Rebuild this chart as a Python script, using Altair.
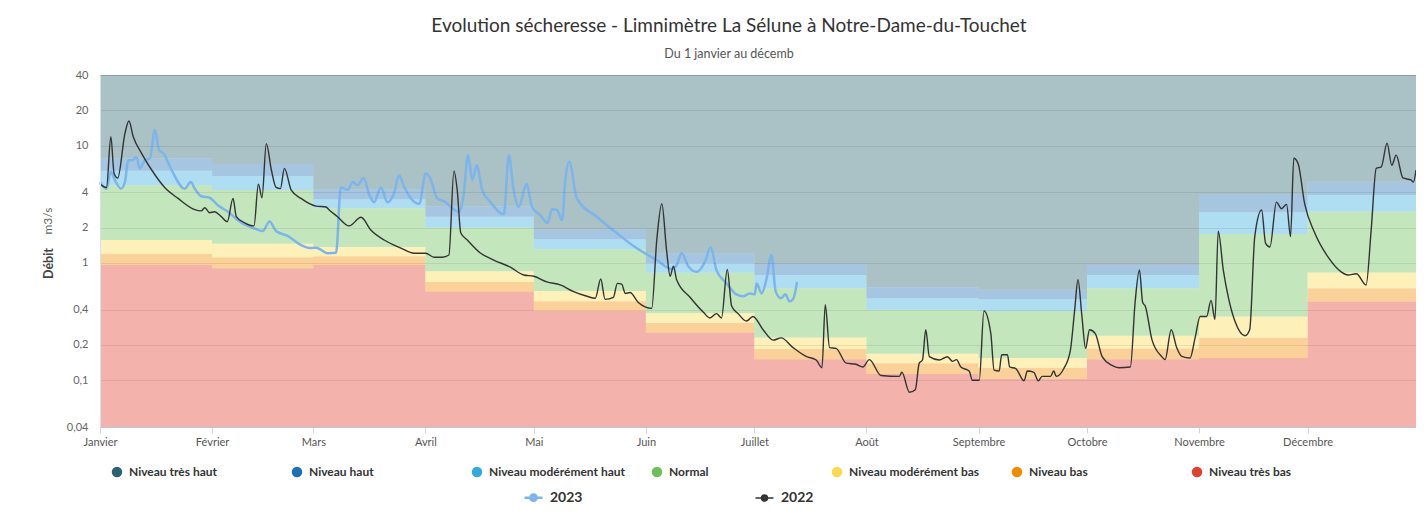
import altair as alt
import pandas as pd

# ---------------- data ----------------
MONTHS = ["Janvier", "Février", "Mars", "Avril", "Mai", "Juin", "Juillet",
          "Août", "Septembre", "Octobre", "Novembre", "Décembre"]
MONTH_START = [0, 31, 59, 90, 120, 151, 181, 212, 243, 273, 304, 334]
YEAR_END = 364

LEVELS = ["Niveau très haut", "Niveau haut", "Niveau modérément haut", "Normal",
          "Niveau modérément bas", "Niveau bas", "Niveau très bas"]
LEVEL_COLORS = ["#2a6470", "#1f6fb5", "#36a9dc", "#6cc05a", "#fcd94f", "#f08c00", "#e0402f"]

Y_MIN, Y_MAX = 0.04, 40
Y_TICKS = [0.04, 0.1, 0.2, 0.4, 1, 2, 4, 10, 20, 40]

# monthly upper thresholds of each level (m3/s)
T_TRES_BAS = [0.96, 0.90, 0.96, 0.57, 0.392, 0.256, 0.151, 0.113, 0.103, 0.151, 0.155, 0.47]
T_BAS = [1.19, 1.12, 1.14, 0.69, 0.473, 0.31, 0.185, 0.14, 0.128, 0.187, 0.23, 0.61]
T_MOD_BAS = [1.57, 1.46, 1.37, 0.85, 0.577, 0.372, 0.232, 0.168, 0.155, 0.24, 0.35, 0.83]
T_NORMAL = [4.6, 4.19, 2.92, 2.0, 1.31, 0.826, 0.61, 0.40, 0.39, 0.61, 1.77, 2.74]
T_MOD_HAUT = [6.1, 5.5, 3.5, 2.48, 1.59, 1.0, 0.79, 0.50, 0.49, 0.79, 2.7, 3.79]
T_HAUT = [7.8, 6.96, 4.24, 3.04, 1.93, 1.21, 0.98, 0.62, 0.59, 0.96, 3.87, 4.93]

# 2022 daily flow (day of year from 1 January, m3/s)
DAY_2022 = [0, 1.8, 3.0, 3.9, 4.9, 6.9, 8.0, 9.2, 11.5, 14.3, 17.9, 21.6, 26.2, 28.0, 29.0,
            30.3, 31.7, 33.4, 35.2, 36.8, 37.7, 40.0, 42.6, 43.8, 44.8, 46.0, 47.4, 48.7,
            49.9, 51.0, 52.9, 55.6, 59.8, 62.5, 63.4, 65.7, 68.9, 72.2, 74.9, 78.6, 83.2,
            86.9, 90.1, 92.4, 94.7, 96.5, 97.9, 98.8, 99.8, 101.6, 105.3, 108.9, 113.5,
            117.2, 120.0, 123.6, 127.3, 131.0, 134.7, 137.0, 138.5, 139.7, 142.0, 143.1,
            144.3, 145.3, 146.6, 148.9, 152.6, 154.0, 155.4, 156.7, 157.7, 158.6, 159.5,
            163.2, 166.9, 168.7, 170.5, 171.9, 173.5, 174.7, 176.5, 178.8, 180.6, 183.4,
            186.2, 188.4, 191.7, 195.3, 198.1, 199.7, 200.6, 201.8, 203.6, 206.4, 209.1,
            211.0, 212.8, 216.0, 221.1, 221.8, 223.9, 225.5, 226.6, 227.5, 228.4, 229.4,
            232.1, 234.4, 235.8, 236.9, 238.1, 240.4, 241.3, 243.2, 244.5, 246.4, 247.3,
            248.7, 249.4, 251.0, 251.6, 253.3, 255.6, 256.5, 258.3, 259.5, 260.6, 262.9,
            263.8, 264.5, 266.6, 268.4, 269.6, 270.5, 271.6, 272.6, 273.7, 275.3, 277.2,
            279.9, 281.8, 285.0, 286.3, 287.5, 288.4, 289.1, 291.0, 293.7, 294.6, 296.3,
            297.8, 299.2, 301.5, 302.9, 304.3, 306.1, 307.3, 308.4, 309.3, 310.7, 312.1,
            313.9, 316.7, 318.0, 319.4, 321.3, 322.4, 323.6, 325.4, 326.8, 328.2, 329.3,
            330.2, 331.4, 333.2, 336.0, 339.7, 343.3, 345.2, 347.5, 350.2, 351.6, 353.0,
            354.4, 356.0, 357.3, 358.5, 360.4, 362.6, 363.3, 364.0]
Q_2022 = [4.7, 4.4, 11.9, 5.8, 5.3, 12.7, 16.2, 11.9, 8.6, 6.2, 4.4, 3.55, 2.85, 2.78, 2.96,
          2.68, 2.73, 2.51, 2.25, 3.55, 2.48, 2.2, 2.07, 4.7, 3.6, 10.4, 6.2, 4.4,
          4.3, 6.4, 4.18, 3.55, 3.05, 3.0, 2.83, 2.48, 2.07, 2.45, 1.91, 1.57, 1.34,
          1.21, 1.21, 1.12, 1.12, 1.17, 6.1, 4.2, 1.8, 1.57, 1.21, 1.06, 0.92,
          0.79, 0.77, 0.69, 0.65, 0.57, 0.52, 0.50, 0.73, 0.49, 0.51, 0.67,
          0.66, 0.55, 0.56, 0.46, 0.41, 1.57, 3.2, 1.29, 0.77, 0.94, 0.72,
          0.51, 0.38, 0.34, 0.37, 0.34, 0.88, 0.43, 0.37, 0.32, 0.35, 0.27,
          0.22, 0.23, 0.19, 0.16, 0.149, 0.128, 0.44, 0.19, 0.187, 0.14, 0.137,
          0.13, 0.15, 0.11, 0.108, 0.117, 0.079, 0.083, 0.14, 0.149, 0.27, 0.159,
          0.149, 0.159, 0.145, 0.15, 0.13, 0.12, 0.10, 0.10, 0.39, 0.25, 0.122,
          0.12, 0.165, 0.165, 0.13, 0.126, 0.099, 0.12, 0.117, 0.099, 0.108, 0.108,
          0.12, 0.108, 0.126, 0.18, 0.40, 0.72, 0.35, 0.187, 0.27, 0.25, 0.159,
          0.134, 0.128, 0.13, 0.46, 0.87, 0.46, 0.43, 0.22, 0.159, 0.15, 0.27,
          0.19, 0.16, 0.155, 0.23, 0.35, 0.35, 0.48, 0.33, 1.87, 0.87, 0.51,
          0.32, 0.24, 0.27, 1.68, 2.83, 1.47, 1.37, 3.3, 2.9, 3.16, 1.68,
          7.8, 7.0, 3.2, 1.8, 1.12, 0.84, 0.79, 0.81, 0.65, 1.91, 6.4,
          6.6, 10.5, 6.8, 8.3, 5.3, 5.1, 4.9, 6.2]

# 2023 daily flow (until mid-July)
DAY_2023 = [0, 1.8, 3.0, 4.1, 5.8, 6.9, 7.8, 8.9, 10.1, 11.0, 12.4, 13.8, 15.2, 16.3, 17.5,
            19.8, 23.4, 25.1, 26.2, 28.0, 30.3, 32.6, 35.4, 39.1, 42.7, 45.0, 46.9, 48.7,
            51.9, 55.6, 57.9, 59.8, 63.0, 65.3, 66.6, 68.5, 69.9, 71.2, 72.9, 74.5, 75.8,
            77.7, 79.5, 81.4, 82.7, 84.1, 86.0, 88.3, 90.1, 91.3, 93.3, 95.6, 97.4, 99.3,
            100.5, 101.8, 103.0, 104.2, 105.7, 108.0, 111.7, 113.1, 114.3, 115.8, 118.0,
            119.5, 121.8, 123.8, 125.0, 126.4, 127.8, 128.7, 129.8, 131.9, 137.4, 142.9,
            148.4, 154.0, 158.1, 159.5, 160.9, 162.7, 165.0, 167.3, 168.9, 170.5, 173.3,
            176.0, 177.9, 179.7, 181.1, 181.6, 183.0, 184.3, 185.7, 186.9, 188.4, 189.6,
            190.7, 191.8, 192.8]
Q_2023 = [4.9, 4.3, 6.0, 5.1, 4.3, 4.9, 7.5, 7.5, 8.0, 6.4, 7.5, 7.8, 13.6, 9.2, 8.6,
          6.2, 4.3, 4.9, 4.3, 3.7, 3.6, 3.1, 2.73, 2.2, 1.97, 1.87, 2.26, 1.87,
          1.7, 1.42, 1.34, 1.35, 1.21, 1.22, 4.4, 4.2, 4.9, 4.6, 5.3, 3.8, 3.3,
          4.4, 3.3, 4.0, 5.6, 4.5, 3.55, 3.2, 5.8, 5.3, 3.55, 3.3, 2.93, 2.73,
          3.65, 8.3, 5.1, 6.8, 4.2, 3.3, 2.6, 8.3, 4.4, 3.0, 4.7,
          3.0, 2.55, 2.2, 2.87, 2.83, 2.32, 5.1, 7.3, 3.55, 2.48, 1.8,
          1.34, 1.06, 0.89, 0.96, 1.21, 0.94, 0.84, 1.02, 1.36, 0.87, 0.67,
          0.54, 0.52, 0.55, 0.54, 0.67, 0.55, 0.72, 1.17, 0.57, 0.50, 0.54,
          0.47, 0.50, 0.69]

SERIES = ["2023", "2022"]
SERIES_COLORS = ["#7cb5ec", "#333333"]

TITLE = "Evolution sécheresse - Limnimètre La Sélune à Notre-Dame-du-Touchet"
SUBTITLE = "Du 1 janvier au décemb"
Y_TITLE = "Débit"
Y_UNIT = "m3/s"

# ---------------- tables ----------------
bounds = [[Y_MIN] * 12, T_TRES_BAS, T_BAS, T_MOD_BAS, T_NORMAL, T_MOD_HAUT, T_HAUT, [Y_MAX] * 12]
band_days = MONTH_START + [YEAR_END]
rows = []
for k, lvl in enumerate(LEVELS[::-1]):
    lo, hi = bounds[k], bounds[k + 1]
    for i, d in enumerate(band_days):
        m = min(i, 11)
        rows.append({"day": d, "niveau": lvl, "lo": lo[m], "hi": hi[m]})
bands = pd.DataFrame(rows)

lines = pd.concat([
    pd.DataFrame({"day": DAY_2023, "q": Q_2023, "annee": "2023"}),
    pd.DataFrame({"day": DAY_2022, "q": Q_2022, "annee": "2022"}),
])

FONT = "Lato"
month_expr = "[" + ",".join("'%s'" % m for m in MONTHS) + "][indexof([" + \
    ",".join(str(d) for d in MONTH_START) + "], datum.value)]"

x_enc = alt.X("day:Q",
              scale=alt.Scale(domain=[0, YEAR_END], nice=False, zero=False),
              axis=alt.Axis(values=MONTH_START, labelExpr=month_expr, title=None, grid=False,
                            tickColor="#ccd6eb", tickSize=6, domainColor="#ccd6eb",
                            labelFont=FONT, labelFontSize=11, labelColor="#555555",
                            labelFlush=False, labelOverlap=False, labelPadding=3))
y_scale = alt.Scale(type="log", domain=[Y_MIN, Y_MAX], nice=False, clamp=True)
y_axis = alt.Axis(values=Y_TICKS, labelExpr="replace(format(datum.value, '~g'), '.', ',')",
                  grid=True, gridColor="#000000", gridOpacity=0.08, ticks=False,
                  domainColor="#d8e2ee", labelPadding=12, labelFont=FONT, labelFontSize=11,
                  labelColor="#666666", title=Y_TITLE, titleFont=FONT, titleFontSize=12.5,
                  titleFontWeight="bold", titleColor="#444444", titleAngle=270,
                  titleX=-52, titleY=188, titleAlign="center", titleBaseline="middle",
                  zindex=1)

area = alt.Chart(bands).mark_area(interpolate="step-after", fillOpacity=0.4).encode(
    x=x_enc,
    y=alt.Y("lo:Q", scale=y_scale, axis=y_axis),
    y2="hi:Q",
    fill=alt.Fill("niveau:N", scale=alt.Scale(domain=LEVELS, range=LEVEL_COLORS),
                  legend=alt.Legend(orient="none", legendX=11, legendY=391,
                                    direction="horizontal", columns=7, gridAlign="all",
                                    columnPadding=25, title=None, symbolType="circle",
                                    symbolSize=110, symbolOpacity=1,
                                    symbolStrokeWidth=0, labelFont=FONT, labelFontSize=12,
                                    labelFontWeight="bold", labelColor="#333333", labelOffset=6)),
)

# line with a filled-looking round marker (concentric rings)
line_symbol = ("M-1,0L-0.35,0M0.35,0L1,0"
               "M-0.35,0A0.35,0.35 0 1,0 0.35,0A0.35,0.35 0 1,0 -0.35,0"
               "M-0.22,0A0.22,0.22 0 1,0 0.22,0A0.22,0.22 0 1,0 -0.22,0"
               "M-0.1,0A0.1,0.1 0 1,0 0.1,0A0.1,0.1 0 1,0 -0.1,0")
line = alt.Chart(lines).mark_line(interpolate="monotone").encode(
    x="day:Q",
    y=alt.Y("q:Q", scale=y_scale),
    stroke=alt.Stroke("annee:N", scale=alt.Scale(domain=SERIES, range=SERIES_COLORS),
                      legend=alt.Legend(orient="none", legendX=423, legendY=412,
                                        direction="horizontal", columns=2, gridAlign="all",
                                        columnPadding=169, title=None, symbolType=line_symbol,
                                        symbolSize=324, symbolStrokeWidth=2,
                                        labelFont=FONT, labelFontSize=14, labelFontWeight="bold",
                                        labelColor="#333333", labelOffset=6)),
    strokeWidth=alt.StrokeWidth("annee:N", scale=alt.Scale(domain=SERIES, range=[2.5, 1.4]),
                                legend=None),
)

unit = alt.Chart(pd.DataFrame({"u": [Y_UNIT]})).mark_text(
    angle=270, font=FONT, fontSize=12, color="#666666").encode(
    text="u:N", x=alt.value(-52), y=alt.value(146))

chart = alt.layer(area, line, unit).properties(
    width=1316, height=352, autosize="none",
    padding={"left": 92, "top": 67, "right": 0, "bottom": 77},
    title=alt.TitleParams(text=TITLE, subtitle=SUBTITLE, font=FONT, fontSize=19,
                          fontWeight="normal", color="#333333", subtitleFont=FONT,
                          subtitleFontSize=12.5, subtitleColor="#555555", subtitlePadding=12,
                          anchor="middle", dx=-29, offset=9),
).configure_view(stroke=None).configure(background="white")

chart.save("out.html", embed_options={"renderer": "svg", "actions": False})
